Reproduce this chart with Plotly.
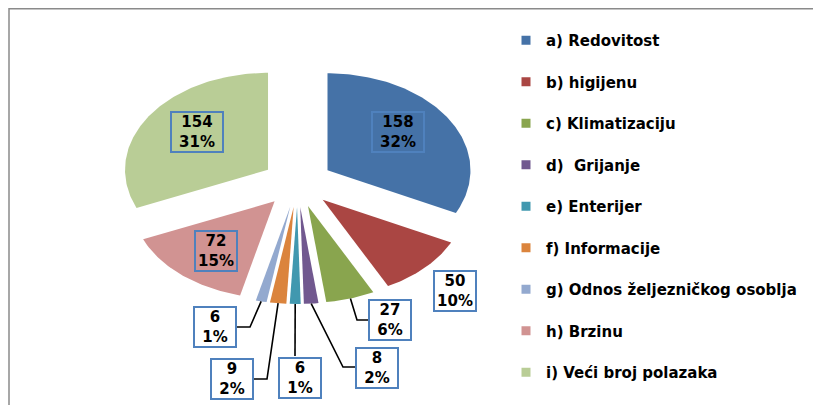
import numpy as np
import plotly.graph_objects as go

categories = ["a) Redovitost", "b) higijenu", "c) Klimatizaciju", "d)\u00a0 Grijanje",
              "e) Enterijer", "f) Informacije", "g) Odnos željezničkog osoblja",
              "h) Brzinu", "i) Veći broj polazaka"]
values = [158, 50, 27, 8, 6, 9, 6, 72, 154]
colors = ["#4572A7", "#AA4643", "#89A54E", "#71588F", "#4198AF",
          "#DB843D", "#93A9CF", "#D19392", "#B9CD96"]

# geometry of the (horizontally stretched, exploded) pie in pixel units
CX, CY, RX, RY = 297.5, 183.0, 143.0, 97.0
PULL = 0.247  # fraction of radius
OFF = 8  # page body margin

# label box centres and leader-line elbows/ends (layout only)
box_centers = [(398, 132), (455, 291), (390, 320), (377, 368), (300, 378),
               (232, 379), (215, 327), (216, 251), (197, 132)]
leaders = {2: [(357, 320), (369, 320)], 3: [(343, 367), (355, 367)],
           4: [(295, 356)], 5: [(267, 379), (254, 379)], 6: [(250, 327), (237, 327)]}
inside = {0, 7, 8}

total = sum(values)
fig = go.Figure()

start = 0.0
outer_mid = []
for i, v in enumerate(values):
    a0 = start
    a1 = start + v / total * 2 * np.pi
    start = a1
    mid = (a0 + a1) / 2
    px = PULL * RX * np.sin(mid)
    py = -PULL * RY * np.cos(mid)
    n = max(4, int((a1 - a0) / (2 * np.pi) * 360))
    th = np.linspace(a0, a1, n)
    xs = np.concatenate([[CX + px], CX + px + RX * np.sin(th), [CX + px]])
    ys = np.concatenate([[CY + py], CY + py - RY * np.cos(th), [CY + py]])
    outer_mid.append((CX + px + RX * np.sin(mid), CY + py - RY * np.cos(mid)))
    fig.add_trace(go.Scatter(x=xs, y=ys, fill="toself", fillcolor=colors[i],
                             line=dict(width=0, color=colors[i]), mode="lines",
                             showlegend=False, hoverinfo="skip"))

# leader lines
for i, pts in leaders.items():
    sx, sy = outer_mid[i]
    xs = [sx] + [p[0] for p in pts]
    ys = [sy] + [p[1] for p in pts]
    fig.add_trace(go.Scatter(x=xs, y=ys, mode="lines",
                             line=dict(color="black", width=1.6),
                             showlegend=False, hoverinfo="skip"))

# legend entries
for i, name in enumerate(categories):
    fig.add_trace(go.Scatter(x=[None], y=[None], mode="markers", name=name,
                             legendgroup=f"g{i}",
                             marker=dict(symbol="square", size=9, color=colors[i])))

# data labels
for i, v in enumerate(values):
    cx, cy = box_centers[i]
    pct = round(v / total * 100)
    w = 48 if v >= 100 else 38
    fig.add_annotation(x=cx, y=cy, xref="x", yref="y", showarrow=False,
                       text=f"{v}<br>{pct}%", width=w, height=36,
                       bordercolor="#4F81BD", borderwidth=2, borderpad=1,
                       bgcolor="rgba(0,0,0,0)" if i in inside else "white",
                       font=dict(family="DejaVu Sans", size=15, color="black", weight="bold"))

# frame
fig.add_shape(type="path", path="M 9 420 L 9 8.8 L 830 8.8", xref="x", yref="y",
              line=dict(color="#8a8a8a", width=1.5))

fig.update_layout(
    width=821, height=405,
    margin=dict(l=0, r=0, t=0, b=0, autoexpand=False),
    paper_bgcolor="white", plot_bgcolor="white",
    xaxis=dict(range=[OFF, 821 + OFF], visible=False, fixedrange=True),
    yaxis=dict(range=[405 + OFF, OFF], visible=False, fixedrange=True),
    showlegend=True,
    legend=dict(x=498 / 821, y=1 - 16 / 405, xanchor="left", yanchor="top",
                tracegroupgap=19, bgcolor="rgba(0,0,0,0)",
                font=dict(family="DejaVu Sans", size=15, color="black", weight="bold")),
)

fig.write_html("out.html")
